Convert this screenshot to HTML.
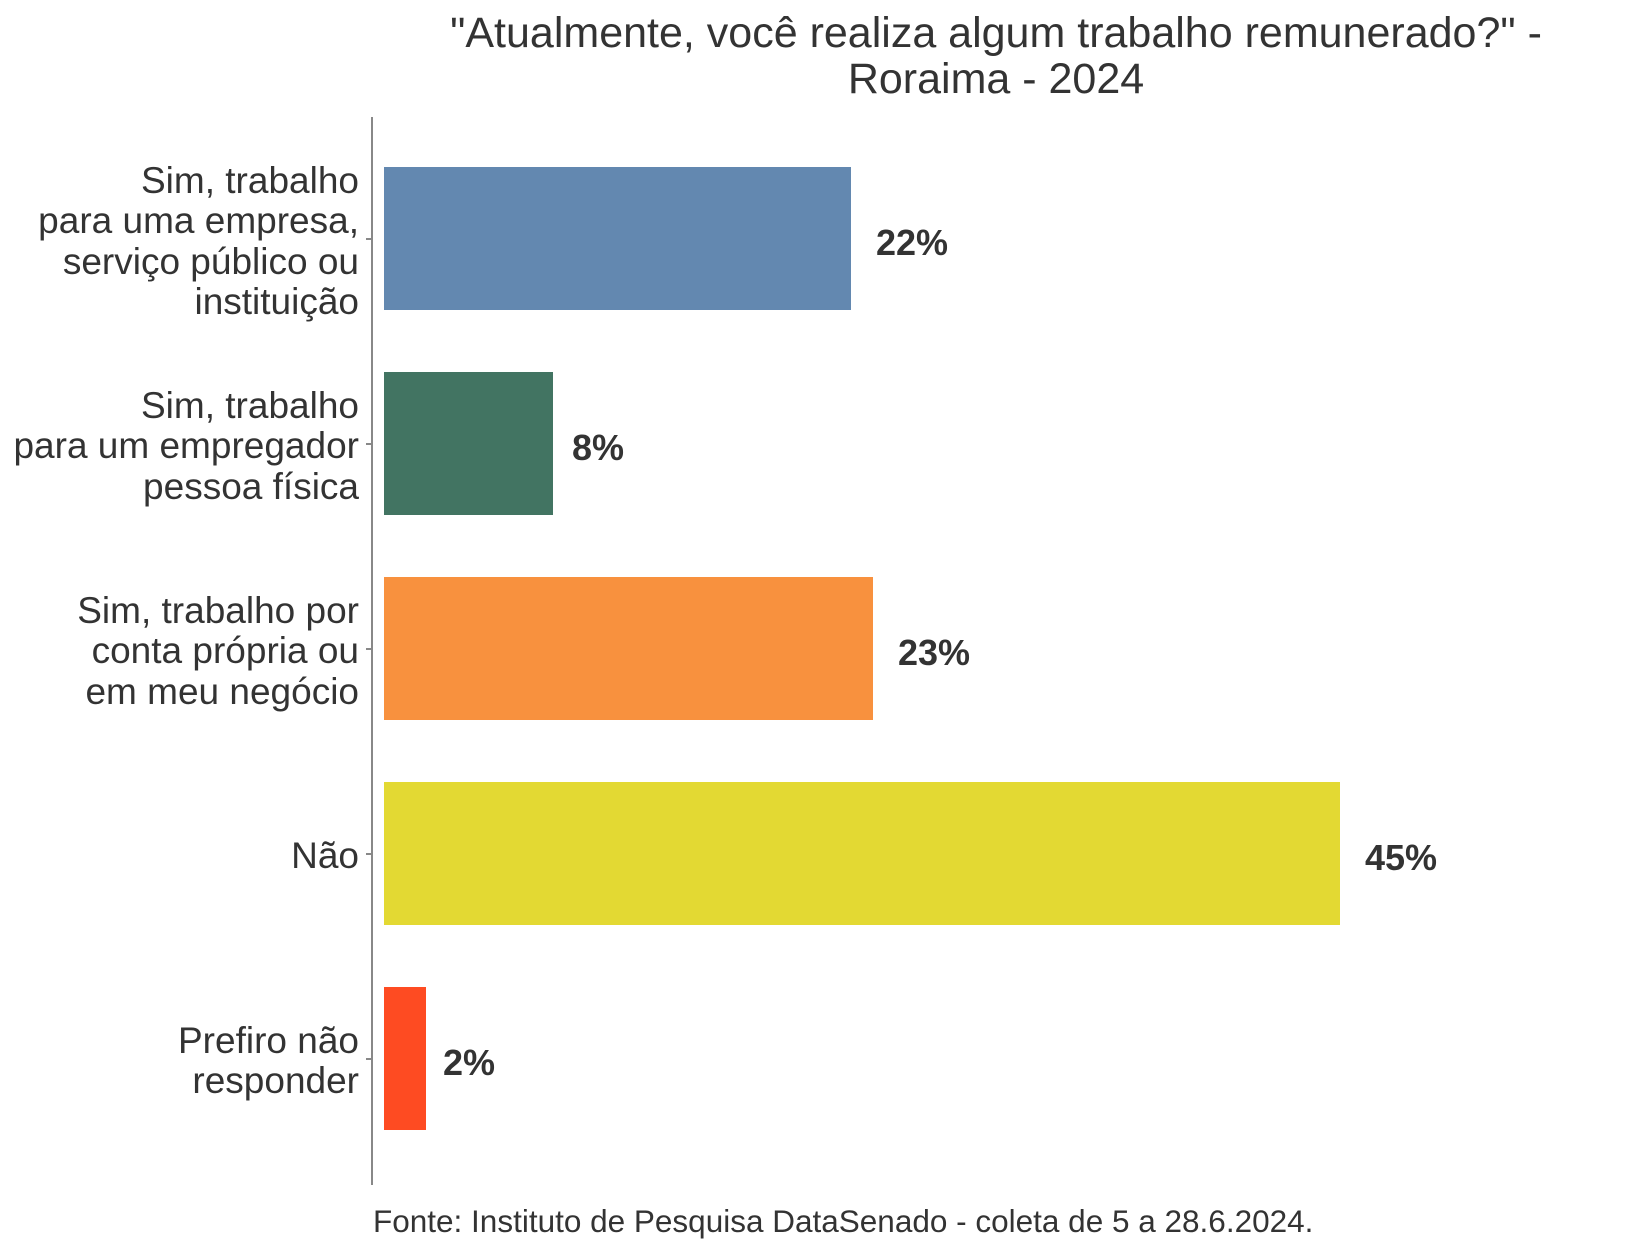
<!DOCTYPE html>
<html><head><meta charset="utf-8"><style>
body{margin:0;background:#fff;}
svg{display:block;font-family:"Liberation Sans",Arial,sans-serif;}
</style></head><body>
<svg width="1632" height="1248" viewBox="0 0 1632 1248" xmlns="http://www.w3.org/2000/svg">
<rect width="1632" height="1248" fill="#fff"/>
<g fill="#333" font-size="43" text-anchor="middle">
<text x="996" y="47">"Atualmente, você realiza algum trabalho remunerado?" -</text>
<text x="996" y="93">Roraima - 2024</text>
</g>
<line x1="372" y1="117" x2="372" y2="1185" stroke="#888" stroke-width="2"/>
<g stroke="#888" stroke-width="2">
<line x1="366" y1="239" x2="372" y2="239"/>
<line x1="366" y1="444" x2="372" y2="444"/>
<line x1="366" y1="649" x2="372" y2="649"/>
<line x1="366" y1="854" x2="372" y2="854"/>
<line x1="366" y1="1059" x2="372" y2="1059"/>
</g>
<rect x="384" y="167" width="467" height="143" fill="#6388b0"/>
<rect x="384" y="372" width="169" height="143" fill="#427462"/>
<rect x="384" y="577" width="489" height="143" fill="#f8913e"/>
<rect x="384" y="782" width="956" height="143" fill="#e3d933"/>
<rect x="384" y="987" width="42" height="143" fill="#fe4b22"/>
<g fill="#333" font-size="36" font-weight="bold">
<text x="876" y="255">22%</text>
<text x="572" y="460">8%</text>
<text x="898" y="665">23%</text>
<text x="1365" y="870">45%</text>
<text x="443" y="1075">2%</text>
</g>
<g fill="#333" font-size="37" text-anchor="end">
<text x="359" y="193">Sim, trabalho</text>
<text x="359" y="233">para uma empresa,</text>
<text x="359" y="274">serviço público ou</text>
<text x="359" y="314">instituição</text>
<text x="359" y="418">Sim, trabalho</text>
<text x="359" y="458">para um empregador</text>
<text x="359" y="499">pessoa física</text>
<text x="359" y="623">Sim, trabalho por</text>
<text x="359" y="663">conta própria ou</text>
<text x="359" y="704">em meu negócio</text>
<text x="359" y="868">Não</text>
<text x="359" y="1053">Prefiro não</text>
<text x="359" y="1093">responder</text>
</g>
<text x="373" y="1232" fill="#333" font-size="31.5">Fonte: Instituto de Pesquisa DataSenado - coleta de 5 a 28.6.2024.</text>
</svg>
</body></html>
